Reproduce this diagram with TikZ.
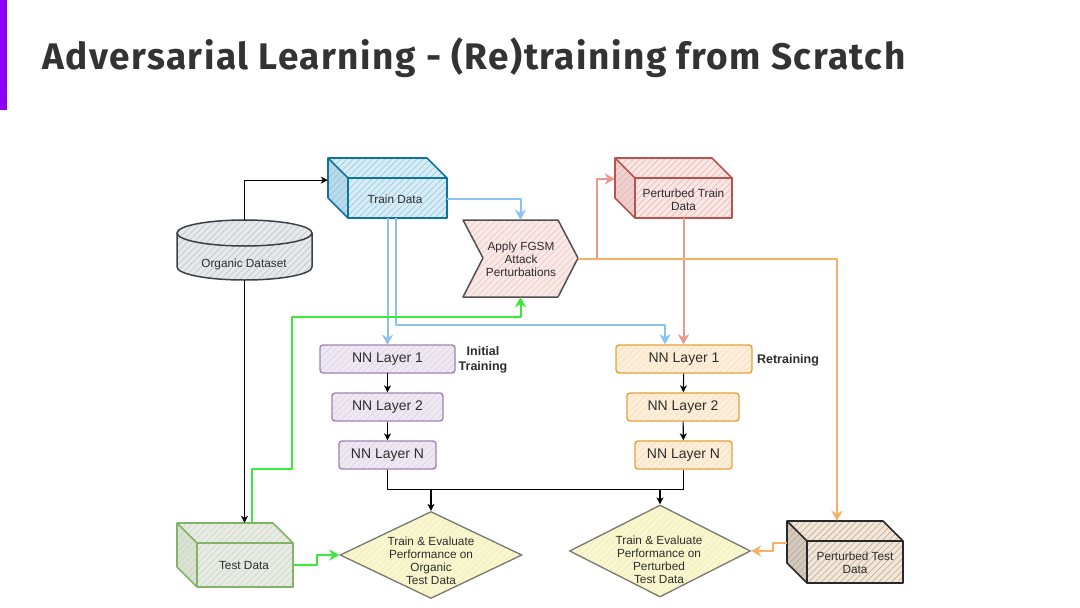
\documentclass[tikz,border=0pt]{standalone}
\usepackage{fontspec}
\setmainfont{Liberation Sans}
\newfontfamily\titlefont{Fira Sans}[LetterSpace=4]
\usetikzlibrary{arrows.meta,patterns.meta,calc,fit,shapes.geometric}
\definecolor{txt}{RGB}{45,45,45}
\definecolor{titlec}{RGB}{51,51,51}
\definecolor{barc}{RGB}{140,0,250}
\definecolor{tdstroke}{RGB}{16,115,158}
\definecolor{tdfill}{RGB}{214,236,247}
\definecolor{ptstroke}{RGB}{184,84,80}
\definecolor{ptfill}{RGB}{250,230,228}
\definecolor{testroke}{RGB}{130,179,102}
\definecolor{tefill}{RGB}{232,234,230}
\definecolor{pxstroke}{RGB}{40,40,40}
\definecolor{pxfill}{RGB}{244,230,214}
\definecolor{orgstroke}{RGB}{60,64,70}
\definecolor{orgfill}{RGB}{230,233,236}
\definecolor{fgstroke}{RGB}{80,80,80}
\definecolor{fgfill}{RGB}{250,232,230}
\definecolor{nnlstroke}{RGB}{160,130,180}
\definecolor{nnlfill}{RGB}{238,232,243}
\definecolor{nnrstroke}{RGB}{230,160,60}
\definecolor{nnrfill}{RGB}{253,238,218}
\definecolor{dstroke}{RGB}{120,120,110}
\definecolor{dfill}{RGB}{250,248,200}
\definecolor{lblue}{RGB}{140,194,240}
\definecolor{lpink}{RGB}{240,150,146}
\definecolor{lorange}{RGB}{246,176,104}
\definecolor{lgreen}{RGB}{60,232,60}
\newcommand\mycube[7]{%
 \fill[#7] (#2,#3) -- (#4-20,#3) -- (#4,#3+20) -- (#4,#5) -- (#2+20,#5) -- (#2,#5-20) -- cycle;
 \fill[#7!85!#6] (#2,#3) -- (#2+20,#3+20) -- (#2+20,#5) -- (#2,#5-20) -- cycle;
 \path[pattern={Lines[angle=45,distance=4.5pt,line width=0.5pt]}, pattern color=#6!35!#7] (#2,#3) -- (#4-20,#3) -- (#4,#3+20) -- (#4,#5) -- (#2+20,#5) -- (#2,#5-20) -- cycle;
 \draw[#6, line width=1.6pt, line join=round] (#2,#3) -- (#4-20,#3) -- (#4,#3+20) -- (#4,#5) -- (#2+20,#5) -- (#2,#5-20) -- cycle;
 \draw[#6, line width=1.6pt, line join=round] (#2,#3) -- (#2+20,#3+20) -- (#4,#3+20) (#2+20,#3+20) -- (#2+20,#5);
 \node[fit={(#2,#3) (#4,#5)}, inner sep=0pt] (#1) {};
}
\begin{document}
\begin{tikzpicture}[x=1pt,y=-1pt,
  lbl/.style={font=\fontsize{11.8}{13}\selectfont, text=txt, align=center, inner sep=0pt},
  nnlbl/.style={font=\fontsize{14}{16}\selectfont, text=txt},
  boldlbl/.style={font=\bfseries\fontsize{12.5}{15}\selectfont, text=txt, align=center, inner sep=0pt},
  nnl/.style={draw=nnlstroke, line width=1.4pt, rounded corners=3pt, preaction={fill=nnlfill},
    pattern={Lines[angle=45,distance=4.5pt,line width=0.4pt]}, pattern color=nnlstroke!40,
    minimum height=28pt, inner sep=0pt, nnlbl},
  nnr/.style={draw=nnrstroke, line width=1.4pt, rounded corners=3pt, preaction={fill=nnrfill},
    pattern={Lines[angle=45,distance=4.5pt,line width=0.4pt]}, pattern color=nnrstroke!40,
    minimum height=28pt, inner sep=0pt, nnlbl},
  dia/.style={diamond, draw=dstroke, line width=1.3pt, inner sep=0pt, preaction={fill=dfill},
    pattern={Lines[angle=45,distance=4.5pt,line width=0.4pt]}, pattern color=dstroke!20},
  blk/.style={draw=black, line width=1.1pt},
  blkarr/.style={blk, -{Stealth[length=7pt,width=7pt,inset=2pt]}},
  colarr/.style={line width=2pt, line join=round, -{Stealth[length=10pt,width=11pt,inset=3pt]}, draw=#1}
]
\useasboundingbox (0,0) rectangle (1080,608);
\fill[white] (0,0) rectangle (1080,608);
\fill[barc] (0,0) rectangle (7,110);
\node[anchor=base west, font=\titlefont\bfseries\fontsize{37}{41}\selectfont, text=titlec, inner sep=0pt] (title) at (42,69) {Adversarial Learning - (Re)training from Scratch};

% cubes
\mycube{td}{328}{158}{447}{218}{tdstroke}{tdfill}
\node[lbl] (tdt) at (395,199) {Train Data};
\mycube{ptd}{615}{158}{732}{218}{ptstroke}{ptfill}
\node[lbl] (ptdt) at (683.5,200) {Perturbed Train\\Data};
\mycube{testd}{177}{523}{293}{587}{testroke}{tefill}
\node[lbl] (testdt) at (244,565) {Test Data};
\mycube{ptest}{787}{521}{903}{583}{pxstroke}{pxfill}
\node[lbl] (ptestt) at (855,563) {Perturbed Test\\Data};

% organic dataset cylinder
\fill[orgfill] (177,233) -- (177,267) arc[start angle=180,end angle=0,x radius=67.5,y radius=13] -- (312,233) arc[start angle=0,end angle=-180,x radius=67.5,y radius=13] -- cycle;
\path[pattern={Lines[angle=45,distance=4.5pt,line width=0.5pt]}, pattern color=orgstroke!35] (177,233) -- (177,267) arc[start angle=180,end angle=0,x radius=67.5,y radius=13] -- (312,233) arc[start angle=0,end angle=-180,x radius=67.5,y radius=13] -- cycle;
\draw[orgstroke, line width=1.5pt] (177,233) -- (177,267) arc[start angle=180,end angle=0,x radius=67.5,y radius=13] -- (312,233);
\draw[orgstroke, line width=1.5pt] (244.5,233) ellipse[x radius=67.5,y radius=13];
\node[fit={(177,220) (312,280)}, inner sep=0pt] (org) {};
\node[lbl] (orgt) at (244,264) {Organic Dataset};

% FGSM chevron
\fill[fgfill] (463,220) -- (558,220) -- (578,258) -- (558,297) -- (463,297) -- (483,258) -- cycle;
\path[pattern={Lines[angle=45,distance=4.5pt,line width=0.5pt]}, pattern color=ptstroke!35] (463,220) -- (558,220) -- (578,258) -- (558,297) -- (463,297) -- (483,258) -- cycle;
\draw[fgstroke, line width=1.5pt, line join=round] (463,220) -- (558,220) -- (578,258) -- (558,297) -- (463,297) -- (483,258) -- cycle;
\node[fit={(463,220) (578,297)}, inner sep=0pt] (fgsm) {};
\node[lbl] (fgsmt) at (521,259.5) {Apply FGSM\\Attack\\Perturbations};

% NN layers
\node[nnl, minimum width=135pt] (nn1l) at (387.5,359) {NN Layer 1};
\node[nnl, minimum width=111pt] (nn2l) at (387.5,407) {NN Layer 2};
\node[nnl, minimum width=97pt] (nnNl) at (387.5,455) {NN Layer N};
\node[nnr, minimum width=136pt] (nn1r) at (684,359) {NN Layer 1};
\node[nnr, minimum width=112pt] (nn2r) at (683,407) {NN Layer 2};
\node[nnr, minimum width=97pt] (nnNr) at (683.5,455) {NN Layer N};
\node[boldlbl] (initl) at (483,360) {Initial\\Training};
\node[boldlbl] (retl) at (788,360) {Retraining};

% diamonds
\node[dia, minimum width=182pt, minimum height=87pt] (dl) at (431,555) {};
\node[lbl] (dlt) at (431,561) {Train \& Evaluate\\Performance on\\Organic\\Test Data};
\node[dia, minimum width=181pt, minimum height=92pt] (dr) at (660,551) {};
\node[lbl] (drt) at (659,559.5) {Train \& Evaluate\\Performance on\\Perturbed\\Test Data};

% connectors
\draw[blkarr] (org.north) |- ($(td.north west)!0.37!(td.south west)$);
\draw[blkarr] (org.south) -- (org.south |- testd.north);
\draw[colarr=lblue] (td.east |- tdt.center) -| (fgsm.north);
\draw[colarr=lblue] (nn1l.north |- td.south) -- (nn1l.north);
\draw[colarr=lblue] ($(td.south)+(8,0)$) -- ++(0,107) -| ($(nn1r.north)+(-19,0)$);
\draw[colarr=lpink] (fgsm.east) -- ++(19,0) |- ($(ptd.north west)!0.35!(ptd.south west)$);
\draw[colarr=lpink] (ptdt |- ptd.south) -- (ptdt |- nn1r.north);
\draw[colarr=lorange] (fgsm.east) -| ($(ptest.north)+(-8,0)$);
\draw[colarr=lgreen] ($(testd.north)+(17,0)$) -- ++(0,-54) -- ++(40,0) -- ++(0,-152) -| (fgsm.south);
\draw[colarr=lgreen] (testdt -| testd.east) -- ++(24,0) |- (dl.west);
\draw[colarr=lorange] ($(ptest.north west)!0.35!(ptest.south west)$) -- ++(-14,0) |- (dr.east);
\draw[blkarr] (nn1l) -- (nn2l);
\draw[blkarr] (nn2l) -- (nnNl);
\draw[blkarr] (nn1r) -- (nn2r);
\draw[blkarr] (nn2r) -- (nnNr);
\draw[blk] (nnNl.south) -- ++(0,20) coordinate (jl) -| (nnNr.south);
\draw[blkarr] (dl.north |- jl) -- (dl.north);
\draw[blkarr] (dr.north |- jl) -- (dr.north);
\end{tikzpicture}
\end{document}
